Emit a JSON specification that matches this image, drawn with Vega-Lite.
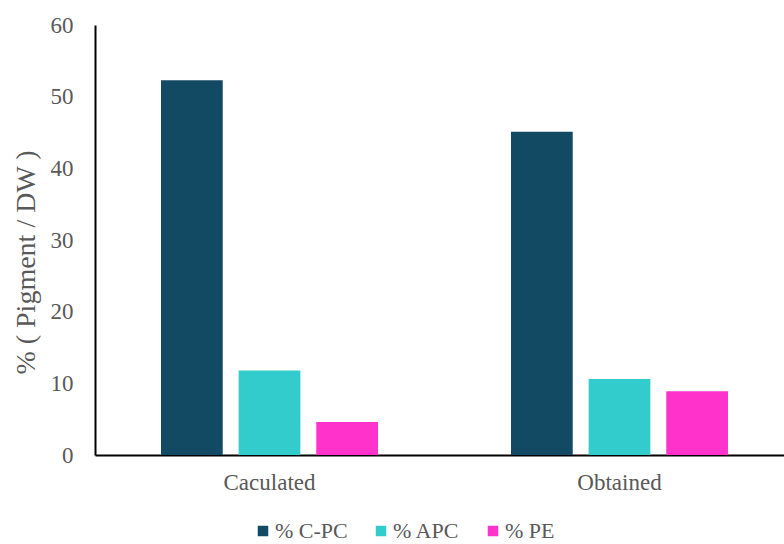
{
  "$schema": "https://vega.github.io/schema/vega-lite/v6.json",
  "autosize": "none",
  "width": 699,
  "height": 430,
  "padding": {"left": 95, "top": 25, "right": 0, "bottom": 89},
  "background": "white",
  "data": {"values": [
    {"group": "Caculated", "series": "% C-PC", "value": 52.3},
    {"group": "Caculated", "series": "% APC", "value": 11.8},
    {"group": "Caculated", "series": "% PE", "value": 4.6},
    {"group": "Obtained", "series": "% C-PC", "value": 45.1},
    {"group": "Obtained", "series": "% APC", "value": 10.6},
    {"group": "Obtained", "series": "% PE", "value": 8.9}
  ]},
  "mark": {"type": "bar"},
  "encoding": {
    "x": {"field": "group", "type": "nominal", "sort": ["Caculated", "Obtained"],
      "scale": {"paddingInner": 0.38, "paddingOuter": 0.1886},
      "axis": {"title": null, "labelAngle": 0, "ticks": false, "domainColor": "black", "domainWidth": 2,
        "labelFont": "Liberation Serif", "labelFontSize": 23, "labelColor": "#595959", "labelPadding": 16}},
    "xOffset": {"field": "series", "type": "nominal", "sort": ["% C-PC", "% APC", "% PE"],
      "scale": {"paddingInner": 0.205, "paddingOuter": 0}},
    "y": {"field": "value", "type": "quantitative",
      "scale": {"domain": [0, 60], "nice": false},
      "axis": {"title": "% ( Pigment / DW )", "values": [0, 10, 20, 30, 40, 50, 60], "grid": false, "ticks": false,
        "domainColor": "black", "domainWidth": 2,
        "labelFont": "Liberation Serif", "labelFontSize": 23, "labelColor": "#595959", "labelPadding": 22,
        "titleFont": "Liberation Serif", "titleFontSize": 28, "titleFontWeight": "normal", "titleColor": "#595959", "titlePadding": 10, "titleY": 237}},
    "color": {"field": "series", "type": "nominal", "sort": ["% C-PC", "% APC", "% PE"],
      "scale": {"domain": ["% C-PC", "% APC", "% PE"], "range": ["#134a63", "#33cccc", "#ff33cc"]},
      "legend": {"title": null, "orient": "none", "direction": "horizontal", "legendX": 157, "legendY": 495,
        "symbolType": "square", "symbolSize": 110, "symbolStrokeWidth": 0,
        "labelFont": "Liberation Serif", "labelFontSize": 22, "labelColor": "#595959", "columnPadding": 22, "labelOffset": 1}}
  },
  "config": {"view": {"stroke": null}}
}
